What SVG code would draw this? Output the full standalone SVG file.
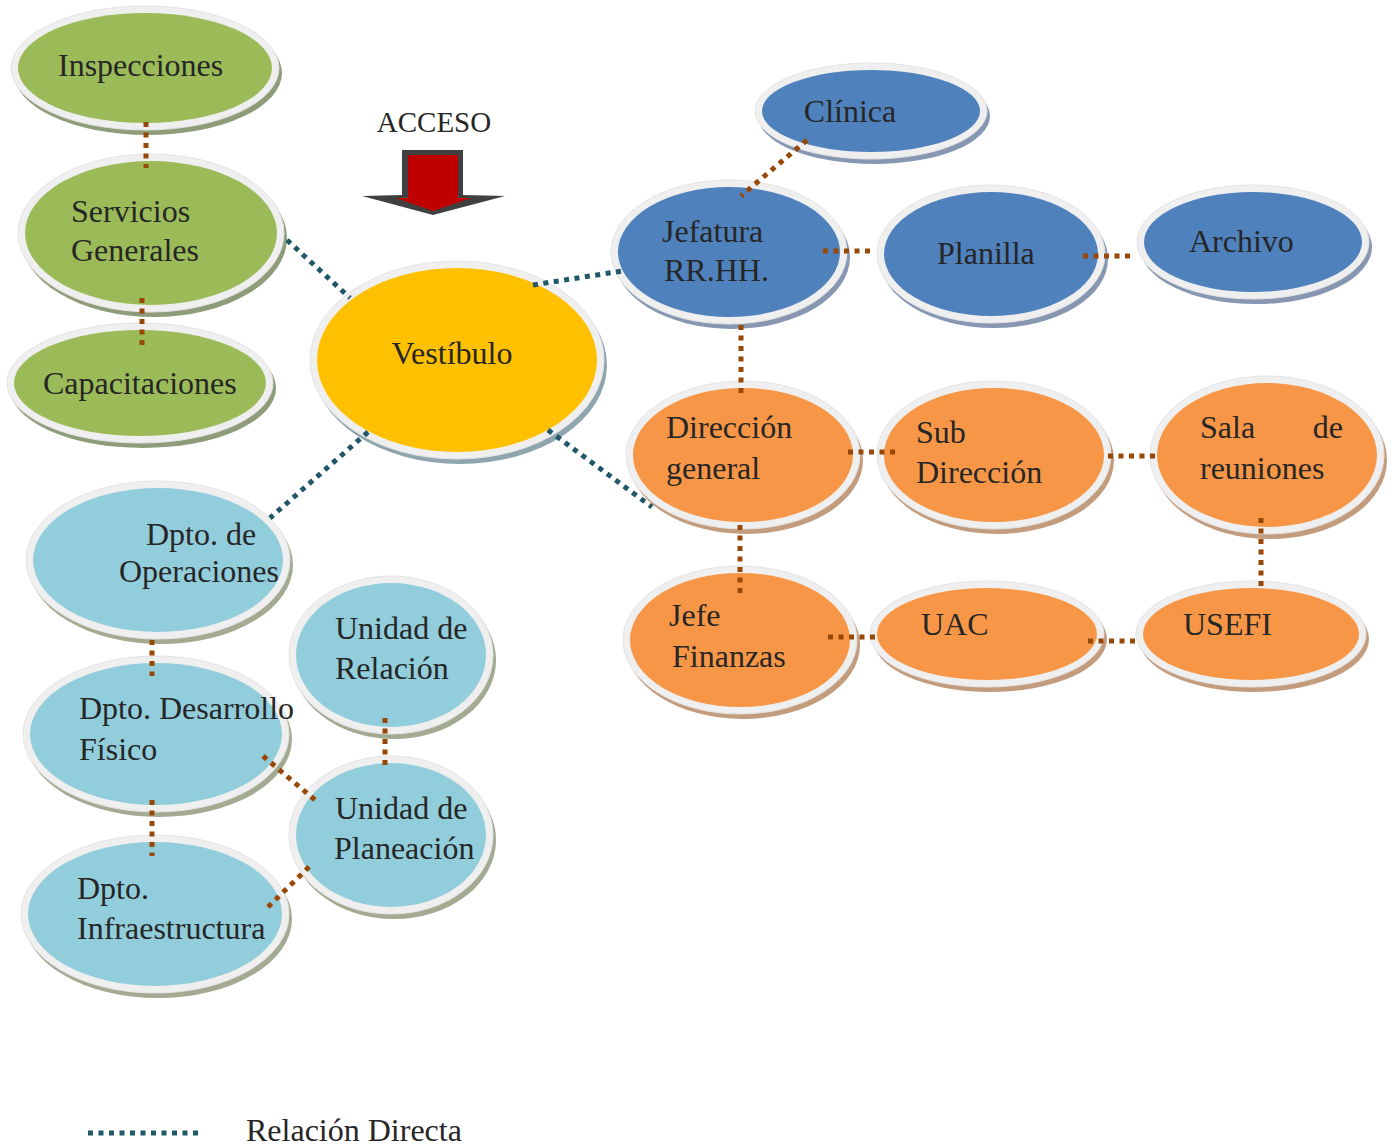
<svg xmlns="http://www.w3.org/2000/svg" width="1394" height="1147" viewBox="0 0 1394 1147">
  <style>
    .rim { fill: #efefef; stroke: #e4e4e4; stroke-width: 1; }
    .sh-green { fill: #8f9c7a; }
    .sh-blue { fill: #8797b2; }
    .sh-orange { fill: #c39c7e; }
    .sh-yellow { fill: #8fa5ad; }
    .sh-sky { fill: #a2aa92; }
    .f-green { fill: #9bbb59; }
    .f-blue { fill: #4f81bd; }
    .f-orange { fill: #f79646; }
    .f-yellow { fill: #ffc000; }
    .f-sky { fill: #92cddc; }
    .lbl { font-family: "Liberation Serif", "Times New Roman", serif; font-size: 32px; fill: #262626; }
    .link-t { fill: none; stroke: #215868; stroke-width: 5; stroke-dasharray: 5 5.5; }
    .link-b { fill: none; stroke: #984806; stroke-width: 5; stroke-dasharray: 5 5.5; }
  </style>

  <!-- Entrance marker -->
  <g id="acceso">
    <text class="lbl" x="434" y="132" text-anchor="middle" style="font-size:29px">ACCESO</text>
    <polygon points="402,150 463,150 463,195 505,196 433,215 362,196 402,195" fill="#404040"/>
    <polygon points="408,155 458,155 458,198 471,198 433,211 396,198 408,198" fill="#c00000"/>
  </g>

  <!-- Green nodes -->
  <g id="inspecciones">
    <ellipse class="sh-green" cx="148" cy="73" rx="134" ry="62"/>
    <ellipse class="rim" cx="145" cy="68" rx="134" ry="62"/>
    <ellipse class="f-green" cx="145" cy="68" rx="127" ry="55"/>
    <text class="lbl" x="58" y="76">Inspecciones</text>
  </g>
  <g id="servicios">
    <ellipse class="sh-green" cx="154" cy="238" rx="133" ry="79"/>
    <ellipse class="rim" cx="151" cy="233" rx="133" ry="79"/>
    <ellipse class="f-green" cx="151" cy="233" rx="126" ry="72"/>
    <text class="lbl" x="71" y="222">Servicios</text>
    <text class="lbl" x="71" y="261">Generales</text>
  </g>
  <g id="capacitaciones">
    <ellipse class="sh-green" cx="143" cy="388" rx="133" ry="60"/>
    <ellipse class="rim" cx="140" cy="383" rx="133" ry="60"/>
    <ellipse class="f-green" cx="140" cy="383" rx="126" ry="53"/>
    <text class="lbl" x="43" y="394">Capacitaciones</text>
  </g>

  <!-- Central node -->
  <g id="vestibulo">
    <ellipse class="sh-yellow" cx="460" cy="365" rx="147" ry="99"/>
    <ellipse class="rim" cx="457" cy="360" rx="147" ry="99"/>
    <ellipse class="f-yellow" cx="457" cy="360" rx="140" ry="92"/>
    <text class="lbl" x="452" y="364" text-anchor="middle">Vestíbulo</text>
  </g>

  <!-- Blue nodes -->
  <g id="clinica">
    <ellipse class="sh-blue" cx="874" cy="116" rx="116" ry="48"/>
    <ellipse class="rim" cx="871" cy="111" rx="116" ry="48"/>
    <ellipse class="f-blue" cx="871" cy="111" rx="109" ry="41"/>
    <text class="lbl" x="850" y="122" text-anchor="middle">Clínica</text>
  </g>
  <g id="jefatura">
    <ellipse class="sh-blue" cx="732" cy="257" rx="118" ry="72"/>
    <ellipse class="rim" cx="729" cy="252" rx="118" ry="72"/>
    <ellipse class="f-blue" cx="729" cy="252" rx="111" ry="65"/>
    <text class="lbl" x="662" y="242">Jefatura</text>
    <text class="lbl" x="664" y="281">RR.HH.</text>
  </g>
  <g id="planilla">
    <ellipse class="sh-blue" cx="994" cy="259" rx="114" ry="69"/>
    <ellipse class="rim" cx="991" cy="254" rx="114" ry="69"/>
    <ellipse class="f-blue" cx="991" cy="254" rx="107" ry="62"/>
    <text class="lbl" x="937" y="264">Planilla</text>
  </g>
  <g id="archivo">
    <ellipse class="sh-blue" cx="1256" cy="247" rx="116" ry="57"/>
    <ellipse class="rim" cx="1253" cy="242" rx="116" ry="57"/>
    <ellipse class="f-blue" cx="1253" cy="242" rx="109" ry="50"/>
    <text class="lbl" x="1189" y="252">Archivo</text>
  </g>

  <!-- Orange nodes -->
  <g id="direccion">
    <ellipse class="sh-orange" cx="746" cy="460" rx="117" ry="74"/>
    <ellipse class="rim" cx="743" cy="455" rx="117" ry="74"/>
    <ellipse class="f-orange" cx="743" cy="455" rx="110" ry="67"/>
    <text class="lbl" x="666" y="438">Dirección</text>
    <text class="lbl" x="666" y="479">general</text>
  </g>
  <g id="subdireccion">
    <ellipse class="sh-orange" cx="997" cy="460" rx="117" ry="74"/>
    <ellipse class="rim" cx="994" cy="455" rx="117" ry="74"/>
    <ellipse class="f-orange" cx="994" cy="455" rx="110" ry="67"/>
    <text class="lbl" x="916" y="443">Sub</text>
    <text class="lbl" x="916" y="483">Dirección</text>
  </g>
  <g id="sala">
    <ellipse class="sh-orange" cx="1270" cy="460" rx="117" ry="79"/>
    <ellipse class="rim" cx="1267" cy="455" rx="117" ry="79"/>
    <ellipse class="f-orange" cx="1267" cy="455" rx="110" ry="72"/>
    <text class="lbl" x="1200" y="438">Sala</text>
    <text class="lbl" x="1343" y="438" text-anchor="end">de</text>
    <text class="lbl" x="1200" y="479">reuniones</text>
  </g>
  <g id="finanzas">
    <ellipse class="sh-orange" cx="743" cy="645" rx="117" ry="74"/>
    <ellipse class="rim" cx="740" cy="640" rx="117" ry="74"/>
    <ellipse class="f-orange" cx="740" cy="640" rx="110" ry="67"/>
    <text class="lbl" x="669" y="626">Jefe</text>
    <text class="lbl" x="672" y="667">Finanzas</text>
  </g>
  <g id="uac">
    <ellipse class="sh-orange" cx="990" cy="639" rx="117" ry="53"/>
    <ellipse class="rim" cx="987" cy="634" rx="117" ry="53"/>
    <ellipse class="f-orange" cx="987" cy="634" rx="110" ry="46"/>
    <text class="lbl" x="921" y="635">UAC</text>
  </g>
  <g id="usefi">
    <ellipse class="sh-orange" cx="1254" cy="639" rx="115" ry="53"/>
    <ellipse class="rim" cx="1251" cy="634" rx="115" ry="53"/>
    <ellipse class="f-orange" cx="1251" cy="634" rx="108" ry="46"/>
    <text class="lbl" x="1183" y="635">USEFI</text>
  </g>

  <!-- Light blue nodes -->
  <g id="operaciones">
    <ellipse class="sh-sky" cx="161" cy="565" rx="132" ry="79"/>
    <ellipse class="rim" cx="158" cy="560" rx="132" ry="79"/>
    <ellipse class="f-sky" cx="158" cy="560" rx="125" ry="72"/>
    <text class="lbl" x="146" y="545">Dpto. de</text>
    <text class="lbl" x="119" y="582">Operaciones</text>
  </g>
  <g id="desarrollo">
    <ellipse class="sh-sky" cx="159" cy="739" rx="133" ry="78"/>
    <ellipse class="rim" cx="156" cy="734" rx="133" ry="78"/>
    <ellipse class="f-sky" cx="156" cy="734" rx="126" ry="71"/>
    <text class="lbl" x="79" y="719">Dpto. Desarrollo</text>
    <text class="lbl" x="79" y="760">Físico</text>
  </g>
  <g id="infraestructura">
    <ellipse class="sh-sky" cx="158" cy="919" rx="134" ry="79"/>
    <ellipse class="rim" cx="155" cy="914" rx="134" ry="79"/>
    <ellipse class="f-sky" cx="155" cy="914" rx="127" ry="72"/>
    <text class="lbl" x="77" y="899">Dpto.</text>
    <text class="lbl" x="77" y="939">Infraestructura</text>
  </g>
  <g id="relacion">
    <ellipse class="sh-sky" cx="394" cy="660" rx="102" ry="79"/>
    <ellipse class="rim" cx="391" cy="655" rx="102" ry="79"/>
    <ellipse class="f-sky" cx="391" cy="655" rx="95" ry="72"/>
    <text class="lbl" x="335" y="639">Unidad de</text>
    <text class="lbl" x="335" y="679">Relación</text>
  </g>
  <g id="planeacion">
    <ellipse class="sh-sky" cx="394" cy="840" rx="102" ry="79"/>
    <ellipse class="rim" cx="391" cy="835" rx="102" ry="79"/>
    <ellipse class="f-sky" cx="391" cy="835" rx="95" ry="72"/>
    <text class="lbl" x="335" y="819">Unidad de</text>
    <text class="lbl" x="334" y="859">Planeación</text>
  </g>

  <!-- Connectors -->
  <g id="connectors">
    <line class="link-t" x1="287" y1="240" x2="350" y2="298"/>
    <line class="link-t" x1="533" y1="285" x2="622" y2="271"/>
    <line class="link-t" x1="368" y1="432" x2="270" y2="518"/>
    <line class="link-t" x1="548" y1="430" x2="652" y2="507"/>

    <line class="link-b" x1="146" y1="122" x2="146" y2="168"/>
    <line class="link-b" x1="142" y1="298" x2="142" y2="345"/>
    <line class="link-b" x1="807" y1="140" x2="741" y2="196"/>
    <line class="link-b" x1="823" y1="251" x2="872" y2="251"/>
    <line class="link-b" x1="1083" y1="256" x2="1133" y2="256"/>
    <line class="link-b" x1="741" y1="325" x2="741" y2="393"/>
    <line class="link-b" x1="848" y1="452" x2="896" y2="452"/>
    <line class="link-b" x1="1108" y1="456" x2="1156" y2="456"/>
    <line class="link-b" x1="1261" y1="518" x2="1261" y2="586"/>
    <line class="link-b" x1="740" y1="525" x2="740" y2="597"/>
    <line class="link-b" x1="828" y1="637" x2="875" y2="637"/>
    <line class="link-b" x1="1088" y1="641" x2="1137" y2="641"/>
    <line class="link-b" x1="152" y1="640" x2="152" y2="676"/>
    <line class="link-b" x1="152" y1="800" x2="152" y2="856"/>
    <line class="link-b" x1="385" y1="718" x2="385" y2="766"/>
    <line class="link-b" x1="263" y1="756" x2="315" y2="800"/>
    <line class="link-b" x1="268" y1="907" x2="310" y2="866"/>
  </g>

  <!-- Legend -->
  <g id="legend">
    <line class="link-t" x1="88" y1="1133" x2="199" y2="1133"/>
    <text class="lbl" x="246" y="1141">Relación Directa</text>
  </g>
</svg>
